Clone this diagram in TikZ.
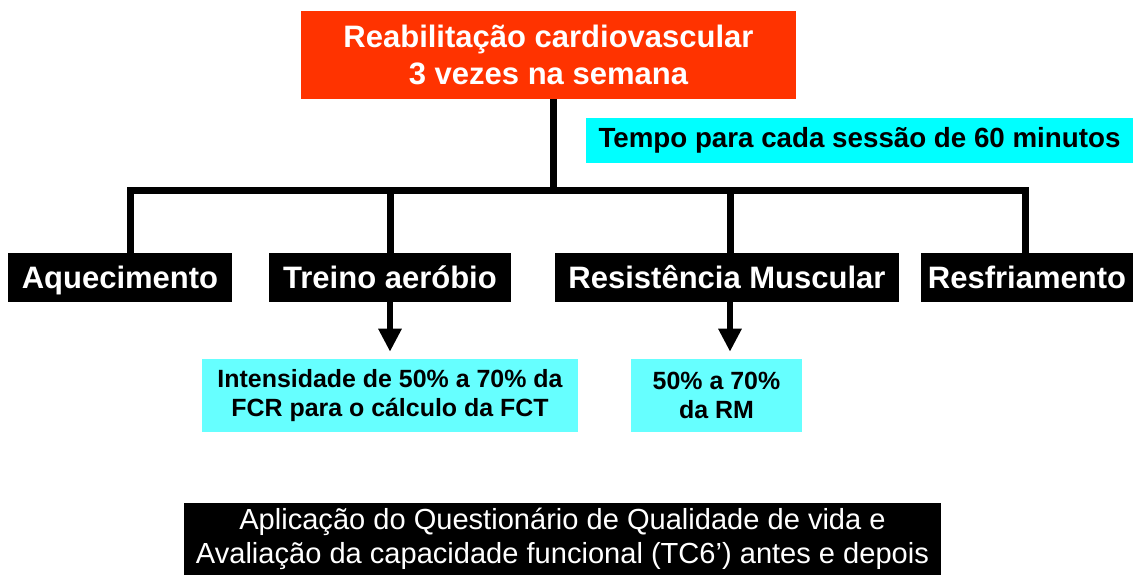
\documentclass[tikz,border=0pt]{standalone}
\usepackage{fontspec}
\setmainfont{Liberation Sans}
\usepackage{xcolor}
\usepackage{tikz}
\usetikzlibrary{arrows.meta, positioning, calc}

\definecolor{titlered}{HTML}{FF3300}
\definecolor{notecyan}{HTML}{00FFFF}
\definecolor{lightcyan}{HTML}{66FFFF}

\begin{document}
\begin{tikzpicture}[x=0.75pt, y=-0.75pt,
  box/.style={inner sep=0pt, align=center},
  phase/.style={box, fill=black, text=white, font=\fontsize{23.25}{27}\selectfont\bfseries,
    minimum height=36.75pt, text height=19.5pt, text depth=3pt},
  detail/.style={box, fill=lightcyan, font=\fontsize{18.7}{21.75}\selectfont\bfseries, minimum height=54.75pt},
  tree/.style={line width=5.25pt, line join=miter},
  down/.style={line width=4.5pt, -{Triangle[width=16.5pt, length=17.25pt]}, shorten >=5.25pt}]
\useasboundingbox (0,0) rectangle (1133,575);

% Title
\node[box, fill=titlered, text=white, minimum width=371.25pt, minimum height=66pt,
  font=\fontsize{23.25}{27.75}\selectfont\bfseries] (top) at (548.5,55)
  {Reabilitação cardiovascular\\3 vezes na semana};
\node[box, fill=notecyan, minimum width=410.25pt, minimum height=33.75pt,
  font=\fontsize{20.8}{24}\selectfont\bfseries] (tempo) at (859.5,140.5)
  {Tempo para cada sessão de 60 minutos};

% Session phases
\node[phase, minimum width=168pt] (aquec) at (120,277.5) {Aquecimento};
\node[phase, minimum width=181.5pt] (treino) at (390,277.5) {Treino aeróbio};
\node[phase, minimum width=258pt] (resist) at (727,277.5) {Resistência Muscular};
\node[phase, minimum width=159pt] (resfr) at (1027,277.5) {Resfriamento};

% Bus
\coordinate (busL) at (130,190);
\coordinate (busR) at (1025,190);
\draw[tree] (top.south -| 553,0) -- (busL -| 553,0);
\draw[tree] (busL |- aquec.north) -- (busL) -- (busR) -- (busR |- resfr.north);
\draw[tree] (treino.north) -- (treino.north |- busL);
\draw[tree] (resist.north -| 730,0) -- (busL -| 730,0);

% Intensity
\node[detail, minimum width=282pt] (intens) at (390,395.5)
  {Intensidade de 50\% a 70\% da\\FCR para o cálculo da FCT};
\node[detail, minimum width=128.25pt] (rm) at (716.5,395.5) {50\% a 70\%\\da RM};
\draw[down] (treino.south) -- (intens.north);
\draw[down] (resist.south -| 730,0) -- (rm.north -| 730,0);

% Evaluation
\node[box, fill=black, text=white, minimum width=567.75pt, minimum height=54pt,
  font=\fontsize{21.8}{25.5}\selectfont] (aval) at (562.5,539)
  {Aplicação do Questionário de Qualidade de vida e\\Avaliação da capacidade funcional (TC6’) antes e depois};
\end{tikzpicture}
\end{document}
